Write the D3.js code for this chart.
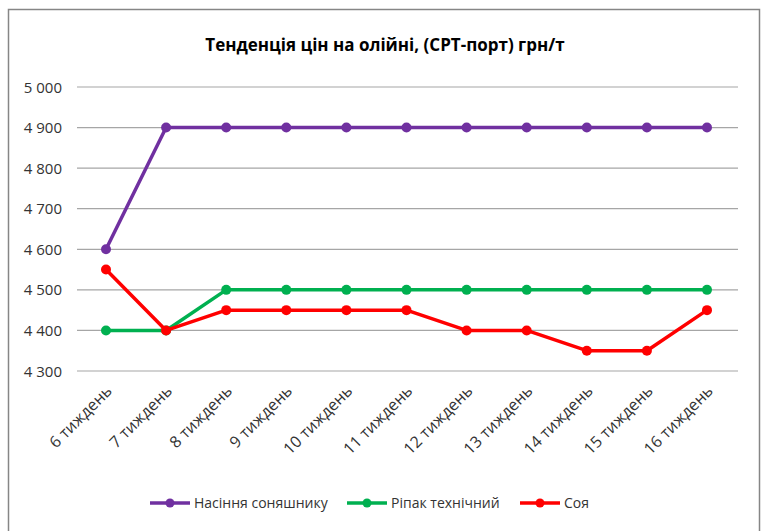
<!DOCTYPE html>
<html>
<head>
<meta charset="utf-8">
<script src="https://cdn.jsdelivr.net/npm/d3@7"></script>
<style>
  body { margin: 0; background: #fff; }
  svg { font-family: "Open Sans", sans-serif; }
</style>
</head>
<body>
<svg id="chart"></svg>
<script>
// Chart data
const weeks = ["6 тиждень", "7 тиждень", "8 тиждень", "9 тиждень", "10 тиждень", "11 тиждень",
               "12 тиждень", "13 тиждень", "14 тиждень", "15 тиждень", "16 тиждень"];
const sunflower = [4600, 4900, 4900, 4900, 4900, 4900, 4900, 4900, 4900, 4900, 4900];
const rapeseed = [4400, 4400, 4500, 4500, 4500, 4500, 4500, 4500, 4500, 4500, 4500];
const soy = [4550, 4400, 4450, 4450, 4450, 4450, 4400, 4400, 4350, 4350, 4450];
const yTicks = [4300, 4400, 4500, 4600, 4700, 4800, 4900, 5000];

const series = [
  { name: "Насіння соняшнику", values: sunflower, color: "#7030A0" },
  { name: "Ріпак технічний", values: rapeseed, color: "#00B050" },
  { name: "Соя", values: soy, color: "#FF0000" }
];

const width = 764;
const height = 531;
const svg = d3.select("#chart")
    .attr("width", width)
    .attr("height", height);

// Outer frame
svg.append("rect")
    .attr("x", 8.5).attr("y", 9.5)
    .attr("width", 751).attr("height", 530)
    .attr("fill", "#fff")
    .attr("stroke", "#868686")
    .attr("stroke-width", 1.5);

// Title
svg.append("text")
    .attr("x", 385).attr("y", 51)
    .attr("text-anchor", "middle")
    .attr("font-size", 17)
    .attr("font-weight", "bold")
    .attr("fill", "#000")
    .text("Тенденція цін на олійні, (СРТ-порт) грн/т");

const x = d3.scalePoint()
    .domain(weeks)
    .range([106, 707]);

const y = d3.scaleLinear()
    .domain([4300, 5000])
    .range([371, 87]);

// Grid lines
svg.append("g")
    .selectAll("line")
    .data(yTicks)
    .enter().append("line")
    .attr("x1", 77).attr("x2", 738)
    .attr("y1", d => y(d)).attr("y2", d => y(d))
    .attr("stroke", "#a6a6a6")
    .attr("stroke-width", 1.2);

// Y labels
const fmt = d => d3.format(",")(d).replace(",", " ");
svg.append("g")
    .selectAll("text")
    .data(yTicks)
    .enter().append("text")
    .attr("x", 62)
    .attr("y", d => y(d) + 5.5)
    .attr("text-anchor", "end")
    .attr("font-size", 15)
    .attr("fill", "#333")
    .text(fmt);

// X labels, rotated
svg.append("g")
    .selectAll("text")
    .data(weeks)
    .enter().append("text")
    .attr("transform", d => `translate(${x(d) + 7},${392}) rotate(-45)`)
    .attr("text-anchor", "end")
    .attr("font-size", 16)
    .attr("fill", "#333")
    .text(d => d);

// Series lines and markers
const line = d3.line()
    .x((d, i) => x(weeks[i]))
    .y(d => y(d));

series.forEach(s => {
  svg.append("path")
      .datum(s.values)
      .attr("d", line)
      .attr("fill", "none")
      .attr("stroke", s.color)
      .attr("stroke-width", 3.5)
      .attr("stroke-linejoin", "round");
  svg.append("g")
      .selectAll("circle")
      .data(s.values)
      .enter().append("circle")
      .attr("cx", (d, i) => x(weeks[i]))
      .attr("cy", d => y(d))
      .attr("r", 5)
      .attr("fill", s.color);
});

// Legend
const legendX = [150, 347, 520];
const legend = svg.append("g")
    .selectAll("g")
    .data(series)
    .enter().append("g")
    .attr("transform", (d, i) => `translate(${legendX[i]},503)`);
legend.append("line")
    .attr("x1", 0).attr("x2", 40)
    .attr("stroke", d => d.color)
    .attr("stroke-width", 3.5);
legend.append("circle")
    .attr("cx", 20).attr("r", 4.5)
    .attr("fill", d => d.color);
legend.append("text")
    .attr("x", 44).attr("y", 5)
    .attr("font-size", 14)
    .attr("fill", "#333")
    .text(d => d.name);
</script>
</body>
</html>
